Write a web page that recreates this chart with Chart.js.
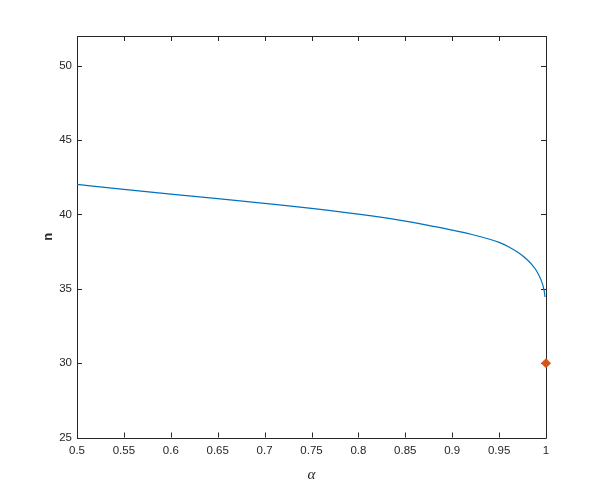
<!DOCTYPE html>
<html>
<head>
<meta charset="utf-8">
<script src="https://cdn.jsdelivr.net/npm/chart.js@4"></script>
<style>
  html, body { margin: 0; padding: 0; background: #fff; }
  #wrap { width: 603px; height: 492px; }
</style>
</head>
<body>
<div id="wrap"><canvas id="chart"></canvas></div>
<script>
// values
const alpha = [0.5, 0.55, 0.6, 0.65, 0.7, 0.75, 0.8, 0.85, 0.88, 0.9, 0.92, 0.94, 0.95, 0.96, 0.97, 0.98, 0.985, 0.99, 0.995, 0.998, 0.999];
const nValues = [42.02, 41.69, 41.37, 41.06, 40.74, 40.41, 40.02, 39.55, 39.20, 38.95, 38.67, 38.33, 38.12, 37.83, 37.45, 36.95, 36.62, 36.20, 35.55, 34.90, 34.45];
const markerAlpha = [1];
const markerN = [30];
const xTicks = [0.5, 0.55, 0.6, 0.65, 0.7, 0.75, 0.8, 0.85, 0.9, 0.95, 1];
const xTickLabels = ['0.5', '0.55', '0.6', '0.65', '0.7', '0.75', '0.8', '0.85', '0.9', '0.95', '1'];
const yTicks = [25, 30, 35, 40, 45, 50];
const yTickLabels = ['25', '30', '35', '40', '45', '50'];

const axisColor = '#262626';

// MATLAB style box with ticks pointing inward on all four sides
const boxPlugin = {
  id: 'box',
  beforeDatasetsDraw(chart) {
    const { ctx, chartArea: a, scales } = chart;
    const len = 5;
    ctx.save();
    ctx.strokeStyle = axisColor;
    ctx.lineWidth = 1;
    ctx.beginPath();
    ctx.rect(Math.round(a.left) + 0.5, Math.round(a.top) + 0.5, Math.round(a.right - a.left), Math.round(a.bottom - a.top));
    xTicks.forEach(v => {
      const x = Math.round(scales.x.getPixelForValue(v)) + 0.5;
      ctx.moveTo(x, a.bottom); ctx.lineTo(x, a.bottom - len);
      ctx.moveTo(x, a.top); ctx.lineTo(x, a.top + len);
    });
    yTicks.forEach(v => {
      const y = Math.round(scales.y.getPixelForValue(v)) + 0.5;
      ctx.moveTo(a.left, y); ctx.lineTo(a.left + len, y);
      ctx.moveTo(a.right, y); ctx.lineTo(a.right - len, y);
    });
    ctx.stroke();
    ctx.restore();
  }
};

const tickFont = { family: 'Liberation Sans, Arial, sans-serif', size: 11.5 };

new Chart(document.getElementById('chart'), {
  type: 'scatter',
  data: {
    datasets: [
      {
        data: alpha.map((a, i) => ({ x: a, y: nValues[i] })),
        showLine: true,
        borderColor: '#0072BD',
        borderWidth: 1.2,
        pointRadius: 0,
        cubicInterpolationMode: 'monotone',
        fill: false
      },
      {
        data: markerAlpha.map((a, i) => ({ x: a, y: markerN[i] })),
        pointStyle: 'rectRot',
        pointRadius: 4.5,
        backgroundColor: '#D95319',
        borderColor: '#D95319',
        borderWidth: 1,
        clip: false
      }
    ]
  },
  options: {
    responsive: true,
    maintainAspectRatio: false,
    animation: false,
    layout: { padding: { left: 0, top: 36, right: 57, bottom: 0 } },
    plugins: { legend: { display: false }, tooltip: { enabled: false } },
    scales: {
      x: {
        type: 'linear',
        min: 0.5,
        max: 1,
        afterBuildTicks: s => { s.ticks = xTicks.map(v => ({ value: v })); },
        afterFit: s => { s.height = 54.5; },
        grid: { display: false, drawTicks: false },
        border: { display: false },
        ticks: {
          padding: 6,
          color: axisColor,
          font: tickFont,
          maxRotation: 0,
          autoSkip: false,
          callback: (v, i) => xTickLabels[i]
        },
        title: {
          display: true,
          text: 'α',
          color: axisColor,
          font: { family: 'Liberation Serif, serif', size: 15, style: 'italic' },
          padding: { top: 0, bottom: 8 }
        }
      },
      y: {
        type: 'linear',
        min: 25,
        max: 52,
        afterBuildTicks: s => { s.ticks = yTicks.map(v => ({ value: v })); },
        afterFit: s => { s.width = 77; },
        grid: { display: false, drawTicks: false },
        border: { display: false },
        ticks: {
          padding: 5,
          color: axisColor,
          font: tickFont,
          autoSkip: false,
          callback: (v, i) => yTickLabels[i]
        },
        title: {
          display: true,
          text: 'n',
          color: axisColor,
          font: { family: 'Liberation Sans, Arial, sans-serif', size: 13, weight: 'bold' },
          padding: { top: 41, bottom: 0 }
        }
      }
    }
  },
  plugins: [boxPlugin]
});
</script>
</body>
</html>
